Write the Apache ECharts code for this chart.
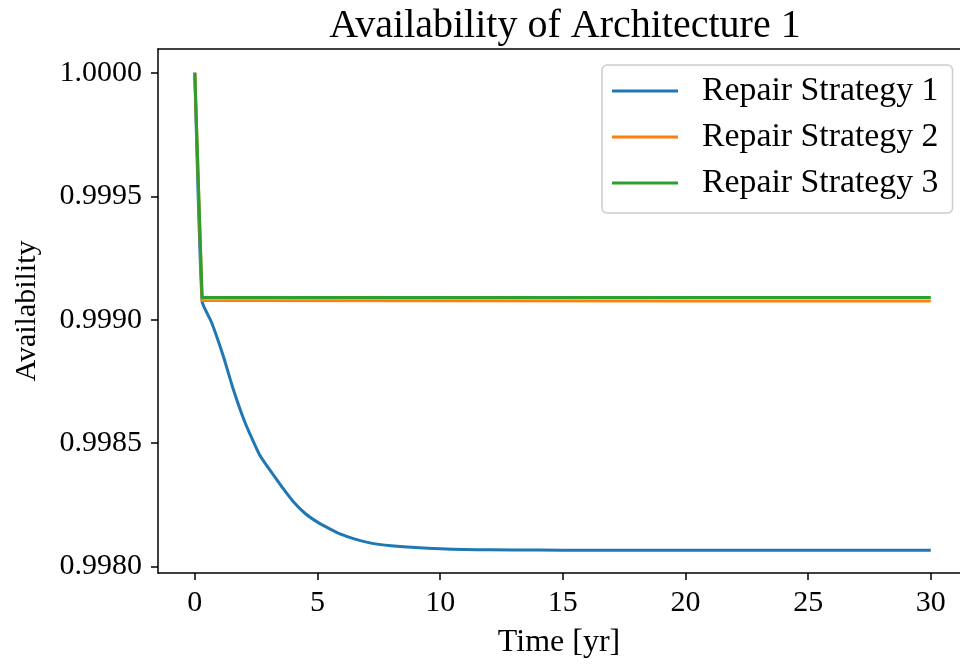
<!DOCTYPE html>
<html>
<head>
<meta charset="utf-8">
<script src="https://cdn.jsdelivr.net/npm/echarts@6/dist/echarts.min.js"></script>
<style>
  html, body { margin: 0; padding: 0; background: #fff; }
  #chart { width: 960px; height: 664px; }
</style>
</head>
<body>
<div id="chart"></div>
<script>
// Time axis (years) and availability for each repair strategy
const strategy1Time = [0, 0.298, 0.681, 1.154, 1.562, 2.038, 2.65, 3.6, 4.0, 4.5, 5.0, 5.5, 6.0, 6.5, 7.0, 7.5, 8.0, 9.0, 10.0, 11.0, 12.0, 14.0, 16.0, 20.0, 25.0, 30.0];
const strategy1Avail = [1.0, 0.9990731, 0.9989899, 0.9988549, 0.9987204, 0.9985859, 0.9984509, 0.9983164, 0.998265, 0.998215, 0.998180, 0.998153, 0.998129, 0.998112, 0.998099, 0.998090, 0.998084, 0.998077, 0.998072, 0.998069, 0.998068, 0.998067, 0.998066, 0.998066, 0.998066, 0.998066];

const strategy2Time = [0, 0.298, 10, 20, 30];
const strategy2Avail = [1.0, 0.999078, 0.999077, 0.999076, 0.999076];

const strategy3Time = [0, 0.298, 10, 20, 30];
const strategy3Avail = [1.0, 0.999090, 0.999090, 0.999090, 0.999090];

const seriesNames = ['Repair Strategy 1', 'Repair Strategy 2', 'Repair Strategy 3'];
const seriesColors = ['#1f77b4', '#ff7f0e', '#2ca02c'];

const xTicks = [0, 5, 10, 15, 20, 25, 30];
const yTicks = [0.998, 0.9985, 0.999, 0.9995, 1.0];

const FONT = '"Liberation Serif", "DejaVu Serif", serif';

// x range: 5% margin on the left, the frame runs past the right edge of the canvas
const X_MIN = -1.5;
const X_MAX = 31.19;

function pairs(xs, ys) {
  return xs.map((x, i) => [x, ys[i]]);
}

const chart = echarts.init(document.getElementById('chart'), null, { renderer: 'canvas' });

const lineSeries = [
  pairs(strategy1Time, strategy1Avail),
  pairs(strategy2Time, strategy2Avail),
  pairs(strategy3Time, strategy3Avail)
].map((data, i) => ({
  name: seriesNames[i],
  type: 'line',
  xAxisIndex: 0,
  data: data,
  showSymbol: false,
  symbol: 'none',
  smooth: i === 0 ? 0.15 : false,
  lineStyle: { color: seriesColors[i], width: 3, join: 'round' },
  itemStyle: { color: seriesColors[i] },
  z: 2 + i,
  animation: false
}));

const spine = { show: true, onZero: false, lineStyle: { color: '#000', width: 1.5 } };

chart.setOption({
  animation: false,
  backgroundColor: '#ffffff',
  title: {
    text: 'Availability of Architecture 1',
    left: 560,
    top: 1,
    textAlign: 'center',
    textStyle: { fontFamily: FONT, fontSize: 40, fontWeight: 'normal', color: '#000' }
  },
  grid: {
    left: 158,
    top: 49,
    right: 0,
    bottom: 90,
    show: false,
    containLabel: false
  },
  legend: {
    orient: 'vertical',
    left: 602,
    top: 65,
    data: seriesNames.map((n, i) => ({ name: n, itemStyle: { color: seriesColors[i] } })),
    icon: 'rect',
    itemWidth: 66,
    itemHeight: 3,
    itemGap: 12,
    padding: [9, 14, 13, 10],
    backgroundColor: 'rgba(255,255,255,0.8)',
    borderColor: '#cccccc',
    borderWidth: 1.5,
    borderRadius: 5,
    textStyle: {
      fontFamily: FONT,
      fontSize: 33.8,
      lineHeight: 34,
      color: '#000',
      padding: [0, 0, 0, 19]
    }
  },
  xAxis: [
    {
      type: 'value',
      min: X_MIN,
      max: X_MAX,
      name: 'Time [yr]',
      nameLocation: 'middle',
      nameGap: 54,
      nameTextStyle: { fontFamily: FONT, fontSize: 32, color: '#000' },
      axisLine: spine,
      axisTick: { show: true, length: 7, lineStyle: { color: '#000', width: 1.5 }, customValues: xTicks },
      axisLabel: {
        fontFamily: FONT, fontSize: 30, color: '#000', margin: 15,
        customValues: xTicks,
        formatter: v => String(Math.round(v))
      },
      splitLine: { show: false }
    },
    {
      // top frame line
      type: 'value',
      position: 'top',
      min: X_MIN,
      max: X_MAX,
      axisLine: spine,
      axisTick: { show: false },
      axisLabel: { show: false },
      splitLine: { show: false }
    }
  ],
  yAxis: {
    type: 'value',
    min: 0.997974,
    max: 1.0000965,
    name: 'Availability',
    nameLocation: 'middle',
    nameGap: 116,
    nameRotate: 90,
    nameTextStyle: { fontFamily: FONT, fontSize: 30, color: '#000' },
    axisLine: spine,
    axisTick: { show: true, length: 7, lineStyle: { color: '#000', width: 1.5 }, customValues: yTicks },
    axisLabel: {
      fontFamily: FONT, fontSize: 30, color: '#000', margin: 16,
      customValues: yTicks,
      formatter: v => v.toFixed(4)
    },
    splitLine: { show: false }
  },
  series: lineSeries
});
</script>
</body>
</html>
